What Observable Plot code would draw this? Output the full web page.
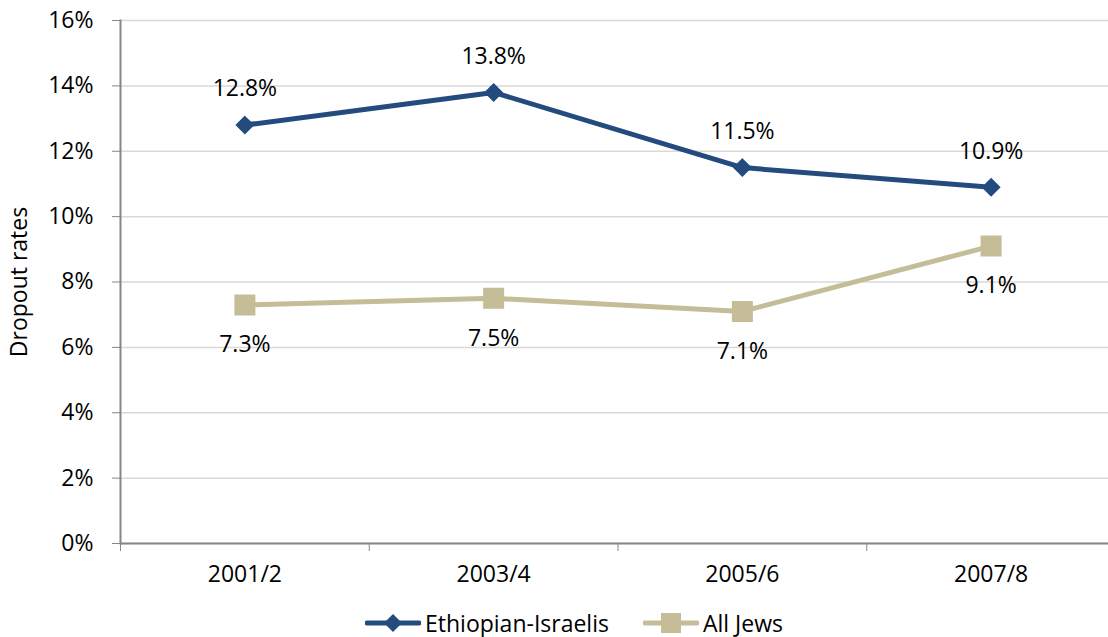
<!DOCTYPE html>
<html>
<head>
<meta charset="utf-8">
<script src="https://cdn.jsdelivr.net/npm/d3@7"></script>
<script src="https://cdn.jsdelivr.net/npm/@observablehq/plot@0.6"></script>
<style>
  body { margin: 0; background: #fff; font-family: "Open Sans", sans-serif; }
  #legend { height: 46px; display: flex; align-items: center; padding-left: 365px; font-size: 23px; color: #000; }
  #legend .item { display: flex; align-items: center; margin-right: 34px; }
  #legend svg { margin-right: 4px; }
</style>
</head>
<body>
<div id="chart"></div>
<div id="legend"></div>
<script>
// periods on the x axis
const years = ["2001/2", "2003/4", "2005/6", "2007/8"]
// dropout rates, in percent
const ethiopian = [12.8, 13.8, 11.5, 10.9]
const allJews = [7.3, 7.5, 7.1, 9.1]
const yTicks = [0, 2, 4, 6, 8, 10, 12, 14, 16]

const navy = "#234b7e"
const tan = "#c4bd97"

const rows = years.flatMap((y, i) => [
  {i: i + 0.5, year: y, serie: "Ethiopian-Israelis", v: ethiopian[i]},
  {i: i + 0.5, year: y, serie: "All Jews", v: allJews[i]}
])
const eth = rows.filter(d => d.serie == "Ethiopian-Israelis")
const jews = rows.filter(d => d.serie == "All Jews")

let chart = Plot.plot({
  width: 1108,
  height: 600,
  marginLeft: 120,
  marginRight: 0,
  marginTop: 20,
  marginBottom: 57,
  style: {fontFamily: "Open Sans", fontSize: "22px", color: "#000"},
  x: {domain: [0, 4], range: [120, 1115]},
  y: {domain: [0, 16]},
  marks: [
    Plot.gridY(yTicks, {stroke: "#d9d9d9", strokeOpacity: 1, strokeWidth: 1.5}),
    Plot.axisY({ticks: yTicks, tickSize: 8, tickPadding: 19, stroke: "#868686", fill: "#000", fontSize: 23,
      tickFormat: d => d + "%", label: "Dropout rates", labelAnchor: "center", labelArrow: "none", labelOffset: 110}),
    Plot.axisX({ticks: [0, 1, 2, 3, 4], tickSize: 8, stroke: "#868686", tickFormat: () => "", label: null}),
    Plot.axisX({ticks: years.map((y, i) => i + 0.5), tickSize: 0, tickPadding: 22, fill: "#000", fontSize: 23,
      tickFormat: d => years[Math.floor(d)], label: null}),
    Plot.frame({anchor: "left", stroke: "#868686", strokeWidth: 2}),
    Plot.ruleY([0], {stroke: "#868686", strokeWidth: 2}),
    Plot.line(eth, {x: "i", y: "v", stroke: navy, strokeWidth: 5}),
    Plot.line(jews, {x: "i", y: "v", stroke: tan, strokeWidth: 5}),
    Plot.dot(eth, {x: "i", y: "v", symbol: "diamond2", r: 7.6, fill: navy, stroke: navy}),
    Plot.dot(jews, {x: "i", y: "v", symbol: "square", r: 11, fill: tan, stroke: tan}),
    Plot.text(eth, {x: "i", y: "v", text: d => d.v.toFixed(1) + "%", dy: -36, fill: "#000", fontSize: 23}),
    Plot.text(jews, {x: "i", y: "v", text: d => d.v.toFixed(1) + "%", dy: 40, fill: "#000", fontSize: 23})
  ]
})
d3.select("#chart").append(() => chart)

// legend below the chart
const legend = d3.select("#legend")
const items = [
  {name: "Ethiopian-Israelis", color: navy, shape: "diamond"},
  {name: "All Jews", color: tan, shape: "square"}
]
items.forEach(it => {
  const div = legend.append("div").attr("class", "item")
  const svg = div.append("svg").attr("width", 56).attr("height", 24)
  svg.append("line").attr("x1", 2).attr("x2", 54).attr("y1", 12).attr("y2", 12)
    .attr("stroke", it.color).attr("stroke-width", 5).attr("stroke-linecap", "round")
  if (it.shape == "diamond") {
    svg.append("path").attr("d", "M28,3L37,12L28,21L19,12Z").attr("fill", it.color)
  } else {
    svg.append("rect").attr("x", 18).attr("y", 2).attr("width", 20).attr("height", 20).attr("fill", it.color)
  }
  div.append("span").text(it.name)
})
</script>
</body>
</html>
